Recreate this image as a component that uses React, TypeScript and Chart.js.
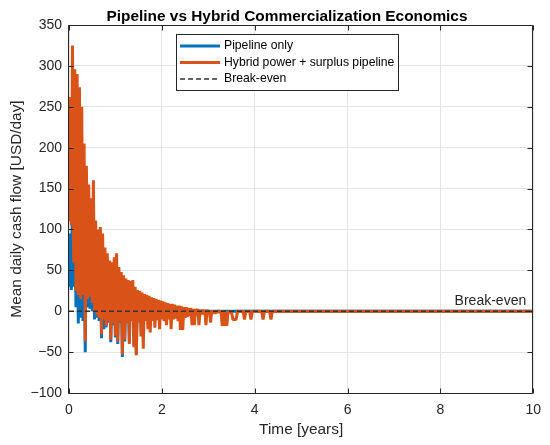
import { useEffect, useRef } from "react";
import { Chart, registerables } from "chart.js";

Chart.register(...registerables);

// dense samples are spaced this many years apart, starting at t = 0
const sampleStep = 0.025;

// Hybrid power + surplus pipeline, USD/day
const hybridDense = [
  110, 262, 105, 325, 60, 296, 25, 290, 20, 274,
  15, 250, 20, 205, -37, 178, 15, 155, 18, 138,
  10, 160, 0, 111, -5, 100, -8, 103, -28, 95,
  -10, 78, -18, 71, -12, 62, -35, 60, -15, 66,
  -30, 71, -37, 54, -12, 48, -53, 44, -35, 40,
  -15, 38, -40, 37, -12, 38, -44, 30, -54, 26,
  -14, 25, -31, 23, -46, 21, -12, 20, -22, 19,
  -26, 17, -12, 16, -20, 15, -11, 14, -22, 13,
  -10, 12, -12, 11, -17, 10, -10, 9, -22, 9,
  -10, 8, -9, 7, -12, 7, -23, 6, -23, 5,
  -8, 5, -7, 4, -6, 4, -17, 3, -17, 3,
  -5, 3, -17, 2, -4, 2, -4, 2, -17, 2,
  -3, 1, -14, 1, -3, 1, -3, 1, -2, 1,
  -2, 1, -18, 1, -18, 0, -18, 0, -2, 0,
];
const hybridTailTime = [3.5, 3.53, 3.56, 3.6, 3.63, 3.75, 3.78, 3.81, 3.89, 3.92, 3.95, 4.15, 4.18, 4.21, 4.32, 4.35, 4.38, 4.5, 10];
const hybridTailValue = [-1, -10, -10, -10, 0, 0, -10, 0, 0, -10, 0, 0, -10, 0, 0, -10, 0, 0, 0];

// Pipeline only, USD/day
const pipelineDense = [
  30, 95, 26, 140, 30, 120, 5, 130, -15, 110,
  -8, 120, -12, 100, -50, 90, 5, 80, 3, 70,
  0, 70, -10, 60, -8, 60, -12, 65, -33, 60,
  -22, 50, -20, 45, -14, 40, -38, 38, -17, 40,
  -32, 45, -40, 35, -14, 30, -56, 28, -37, 25,
  -13, 24, -38, 23, -10, 22, -42, 20, -52, 18,
];
const pipelineTailTime = [1.5, 10];
const pipelineTailValue = [0, 0];

const breakEvenTime = [0, 10];
const breakEvenValue = [0, 0];

const xTickValues = [0, 2, 4, 6, 8, 10];
const yTickValues = [-100, -50, 0, 50, 100, 150, 200, 250, 300, 350];
const seriesNames = ["Pipeline only", "Hybrid power + surplus pipeline", "Break-even"];

const BLUE = "#0072BD";
const ORANGE = "#D95319";
const AXIS = "#262626";
const GRID = "#e4e4e4";
const FONT = "'Liberation Sans', Arial, Helvetica, sans-serif";

const toPoints = (dense: number[], tailT: number[], tailV: number[]) =>
  dense
    .map((y, i) => ({ x: i * sampleStep, y }))
    .concat(tailT.map((x, i) => ({ x, y: tailV[i] })));

const fmtTick = (v: number | string) => {
  const n = Number(v);
  return n < 0 ? "\u2212" + Math.abs(n) : String(n);
};

// title, frame, inward ticks, legend box and the break-even label
const matlabAxes = {
  id: "matlabAxes",
  afterDraw(chart: any) {
    const { ctx, chartArea: a, scales } = chart;
    ctx.save();

    ctx.fillStyle = "#000";
    ctx.font = `bold 15.4px ${FONT}`;
    ctx.textAlign = "center";
    ctx.textBaseline = "alphabetic";
    ctx.fillText("Pipeline vs Hybrid Commercialization Economics", 287, 20.5);

    const y0 = scales.y.getPixelForValue(0);
    ctx.fillStyle = AXIS;
    ctx.font = `14px ${FONT}`;
    ctx.textAlign = "right";
    ctx.fillText("Break-even", a.right - 7, y0 - 6);

    ctx.strokeStyle = AXIS;
    ctx.lineWidth = 1;
    const L = Math.round(a.left) - 0.5;
    const R = Math.round(a.right) - 0.5;
    const T = Math.round(a.top) + 0.5;
    const B = Math.round(a.bottom) + 0.5;
    ctx.beginPath();
    ctx.rect(L, T, R - L, B - T);
    xTickValues.forEach((v) => {
      const px = Math.round(scales.x.getPixelForValue(v)) + 0.5;
      ctx.moveTo(px, B);
      ctx.lineTo(px, B - 5);
      ctx.moveTo(px, T);
      ctx.lineTo(px, T + 5);
    });
    yTickValues.forEach((v) => {
      const py = Math.round(scales.y.getPixelForValue(v)) + 0.5;
      ctx.moveTo(L, py);
      ctx.lineTo(L + 5, py);
      ctx.moveTo(R, py);
      ctx.lineTo(R - 5, py);
    });
    ctx.stroke();

    // legend
    ctx.fillStyle = "#fff";
    ctx.fillRect(176.5, 34.5, 222, 56);
    ctx.strokeRect(176.5, 34.5, 222, 56);
    const rows = [46, 62.5, 79];
    const colors = [BLUE, ORANGE, "#333"];
    rows.forEach((ry, i) => {
      ctx.beginPath();
      ctx.strokeStyle = colors[i];
      ctx.lineWidth = i < 2 ? 3 : 1.5;
      ctx.setLineDash(i < 2 ? [] : [5, 3]);
      ctx.moveTo(180, ry);
      ctx.lineTo(220, ry);
      ctx.stroke();
      ctx.setLineDash([]);
      ctx.fillStyle = "#000";
      ctx.font = `12.2px ${FONT}`;
      ctx.textAlign = "left";
      ctx.textBaseline = "middle";
      ctx.fillText(seriesNames[i], 224, ry);
    });

    ctx.restore();
  },
};

export default function App() {
  const canvasRef = useRef<HTMLCanvasElement | null>(null);

  useEffect(() => {
    if (!canvasRef.current) return;
    const chart = new Chart(canvasRef.current, {
      type: "line",
      data: {
        datasets: [
          {
            label: seriesNames[2],
            data: breakEvenTime.map((x, i) => ({ x, y: breakEvenValue[i] })),
            borderColor: "#333",
            borderWidth: 1.5,
            borderDash: [5, 3],
            pointRadius: 0,
            order: 0,
          },
          {
            label: seriesNames[1],
            data: toPoints(hybridDense, hybridTailTime, hybridTailValue),
            borderColor: ORANGE,
            borderWidth: 3,
            borderJoinStyle: "bevel",
            pointRadius: 0,
            order: 1,
          },
          {
            label: seriesNames[0],
            data: toPoints(pipelineDense, pipelineTailTime, pipelineTailValue),
            borderColor: BLUE,
            borderWidth: 3,
            borderJoinStyle: "bevel",
            pointRadius: 0,
            order: 2,
          },
        ],
      },
      options: {
        animation: false,
        responsive: true,
        maintainAspectRatio: false,
        events: [],
        layout: { padding: { top: 25, right: 15, bottom: 0, left: 0 } },
        elements: { line: { tension: 0, fill: false, borderCapStyle: "butt" } },
        plugins: {
          legend: { display: false },
          tooltip: { enabled: false },
          title: { display: false },
        },
        scales: {
          x: {
            type: "linear",
            min: 0,
            max: 10,
            afterBuildTicks: (s: any) => {
              s.ticks = xTickValues.map((value) => ({ value }));
            },
            afterFit: (s: any) => {
              s.height = 52;
            },
            grid: { color: GRID, drawTicks: false },
            border: { display: false },
            ticks: {
              color: AXIS,
              font: { family: FONT, size: 14 },
              padding: 9,
              maxRotation: 0,
              autoSkip: false,
              callback: fmtTick,
            },
            title: {
              display: true,
              text: "Time [years]",
              color: AXIS,
              font: { family: FONT, size: 15.4 },
              padding: { top: 0, bottom: 6 },
            },
          },
          y: {
            type: "linear",
            min: -100,
            max: 350,
            afterBuildTicks: (s: any) => {
              s.ticks = yTickValues.map((value) => ({ value }));
            },
            afterFit: (s: any) => {
              s.width = 69;
            },
            grid: { color: GRID, drawTicks: false },
            border: { display: false },
            ticks: {
              color: AXIS,
              font: { family: FONT, size: 14 },
              padding: 7,
              autoSkip: false,
              callback: fmtTick,
            },
            title: {
              display: true,
              text: "Mean daily cash flow [USD/day]",
              color: AXIS,
              font: { family: FONT, size: 15.4 },
              padding: { top: 7.5, bottom: 0 },
            },
          },
        },
      },
      plugins: [matlabAxes],
    });
    return () => chart.destroy();
  }, []);

  return (
    <div style={{ position: "absolute", left: 0, top: 0, width: 550, height: 445, background: "#fff" }}>
      <canvas ref={canvasRef} />
    </div>
  );
}
